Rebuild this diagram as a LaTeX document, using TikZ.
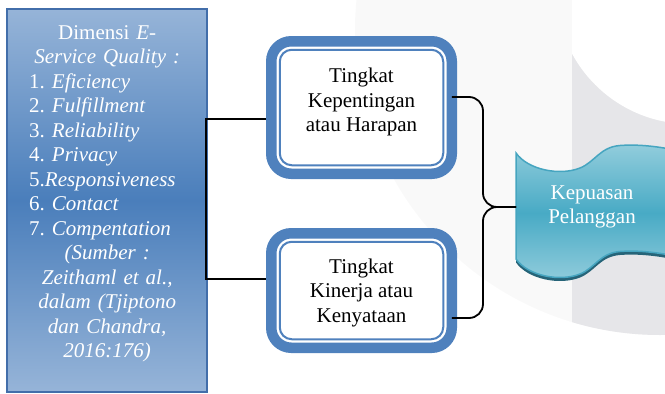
\documentclass[tikz,border=0pt]{standalone}
\usepackage{fontspec}
\setmainfont{Liberation Serif}
\setlength{\parindent}{0pt}
\definecolor{wmfaint}{RGB}{249,249,249}
\definecolor{wmdark}{RGB}{230,230,233}
\definecolor{boxblue}{RGB}{79,129,189}
\definecolor{lblight}{RGB}{150,180,216}
\definecolor{lbdark}{RGB}{74,126,187}
\definecolor{lbedge}{RGB}{66,110,170}
\definecolor{flaglight}{RGB}{146,205,220}
\definecolor{flagmid}{RGB}{72,170,197}
\definecolor{flagedge}{RGB}{70,165,192}
\definecolor{flagrim}{RGB}{38,100,120}
\newcommand\flagshape{(516,153) .. controls (528,170) and (560,176) .. (580,168)
  .. controls (595,162) and (600,147) .. (620,145.5)
  .. controls (640,144) and (660,147) .. (675,150) -- (675,256)
  .. controls (660,253) and (640,250) .. (620,251.5)
  .. controls (600,253) and (595,268) .. (580,274)
  .. controls (560,282) and (528,276) .. (516,259) -- cycle}
\begin{document}
\frenchspacing
\begin{tikzpicture}[x=1pt,y=-1pt,
  lbox/.style={rectangle, draw=lbedge, line width=1.5pt, top color=lblight,
    bottom color=lblight, middle color=lbdark, minimum width=200pt,
    minimum height=383pt, inner sep=0pt, outer sep=0pt},
  ltext/.style={text=white, font=\fontsize{21}{24.5}\selectfont\frenchspacing,
    text width=200pt, inner sep=0pt, anchor=north west},
  impbox/.style={rectangle, rounded corners=20pt, draw=boxblue,
    line width=10.5pt, fill=white, minimum width=180.5pt, inner sep=0pt,
    outer sep=0pt},
  innerline/.style={draw=boxblue, line width=2pt, rounded corners=12pt},
  btext/.style={font=\fontsize{21}{24.5}\selectfont, align=center,
    text=black, inner sep=0pt},
  ftext/.style={font=\fontsize{21}{24.5}\selectfont, align=center,
    text=white, inner sep=0pt},
  conn/.style={draw=black, line width=1.8pt},
  flagbody/.style={top color=flaglight, bottom color=flaglight,
    middle color=flagmid, draw=flagedge, line width=1.5pt},
  flagshadow/.style={fill=flagrim}
]
\useasboundingbox (0,0) rectangle (665,394);
\clip (0,0) rectangle (665,394);
% watermark
\fill[wmfaint] (660,30) circle (305pt);
\begin{scope}
  \clip (572,0) rectangle (665,394);
  \fill[wmdark] (660,30) circle (305pt);
  \fill[white] (690,-10) circle (134pt);
\end{scope}
% left box
\node[lbox] (dim) at (107,200.5) {};
\node[ltext] (dimt) at (7,25) {\centering
  Dimensi \textit{E-}\par
  \textit{Service Quality :}\par
  {\leftskip=22pt\relax \rightskip=0pt plus 1fil\relax
  1. \textit{Eficiency}\par
  2. \textit{Fulfillment}\par
  3. \textit{Reliability}\par
  4. \textit{Privacy}\par
  5.\textit{Responsiveness}\par
  6. \textit{Contact}\par
  7. \textit{Compentation}\par}
  \textit{(Sumber :}\par
  \textit{Zeithaml et al.,}\par
  \textit{dalam (Tjiptono}\par
  \textit{dan Chandra,}\par
  \textit{2016:176)}\par};
% middle boxes
\node[impbox, minimum height=132.5pt] (imp) at (361.5,107.5) {};
\draw[innerline] ([shift={(8.5,8.5)}]imp.north west) rectangle ([shift={(-8.5,-8.5)}]imp.south east);
\node[btext] (impt) at (361.5,102) {Tingkat\\Kepentingan\\atau Harapan};
\node[impbox, minimum height=114.5pt] (kin) at (361.5,290.5) {};
\draw[innerline] ([shift={(8.5,8.5)}]kin.north west) rectangle ([shift={(-8.5,-8.5)}]kin.south east);
\node[btext] (kint) at (361.5,292.5) {Tingkat\\Kinerja atau\\Kenyataan};
% flag
\fill[flagshadow, yshift=-3.5pt] \flagshape;
\path[flagbody] \flagshape;
\node[ftext] (kep) at (592,207) {Kepuasan\\Pelanggan};
\coordinate (flagw) at (516,207);
\coordinate (bx) at (483,207);
\coordinate (bxl) at (205.5,199);
% connectors
\draw[conn, line width=2pt, shorten <=5.25pt, shorten >=5.25pt]
  ([yshift=-11.5pt]imp.west) -| (bxl) |- ([yshift=11.5pt]kin.west);
\draw[conn, rounded corners=14pt] ([yshift=10.5pt]imp.east) -| (bx) -- (flagw);
\draw[conn, rounded corners=14pt] ([yshift=-27.5pt]kin.east) -| (bx) -- (flagw);
\end{tikzpicture}
\end{document}
